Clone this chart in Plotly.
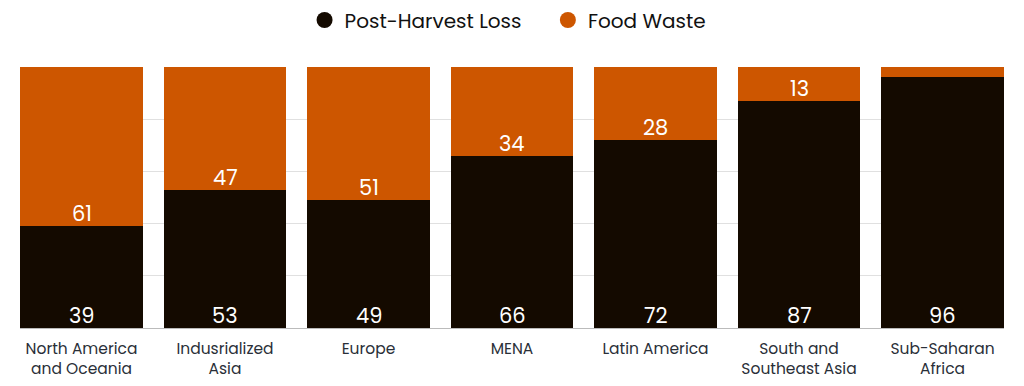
import plotly.graph_objects as go

categories = ["North America<br>and Oceania", "Indusrialized<br>Asia", "Europe", "MENA",
              "Latin America", "South and<br>Southeast Asia", "Sub-Saharan<br>Africa"]
post_harvest = [39, 53, 49, 66, 72, 87, 96]
food_waste = [61, 47, 51, 34, 28, 13, 4]
legend_names = ["Post-Harvest Loss", "Food Waste"]

DARK = "#140a00"
ORANGE = "#cd5600"
FONT = "Poppins, Open Sans, sans-serif"

fig = go.Figure()
fig.add_bar(x=categories, y=post_harvest, name=legend_names[0], marker_color=DARK,
            marker_line_width=0, showlegend=False, hoverinfo="x+y")
fig.add_bar(x=categories, y=food_waste, name=legend_names[1], marker_color=ORANGE,
            marker_line_width=0, showlegend=False, hoverinfo="x+y")
pad = "\u00a0" * 4
for nm, col, suffix in [(legend_names[0], DARK, pad), (legend_names[1], ORANGE, "")]:
    fig.add_scatter(x=[None], y=[None], mode="markers", name=nm + suffix,
                    marker=dict(symbol="circle", size=20, color=col))

# value labels, placed at the base of each segment
lab_font = dict(color="white", size=21, family=FONT)
for c, ph, fw in zip(categories, post_harvest, food_waste):
    fig.add_annotation(x=c, y=0, text=str(ph), showarrow=False, yanchor="bottom",
                       yshift=-4, font=lab_font)
    if fw >= 10:
        fig.add_annotation(x=c, y=ph, text=str(fw), showarrow=False, yanchor="bottom",
                           yshift=-4, font=lab_font)

# page body has an 8px margin, so the figure is 1016x378 and offset by 8px
fig.update_layout(
    barmode="stack", bargap=0.143,
    width=1016, height=378,
    margin=dict(l=12, r=20, t=59, b=58, autoexpand=False),
    plot_bgcolor="white", paper_bgcolor="white",
    font=dict(family=FONT, color="#222"),
    legend=dict(orientation="h", x=0.496, xanchor="center", y=1.18, yanchor="middle",
                font=dict(size=20, color="#111", family=FONT), itemsizing="trace",
                traceorder="normal", itemwidth=30),
    xaxis=dict(range=[-0.4286, 6.4286], showgrid=False, showline=True,
               linecolor="#bbb", linewidth=1, ticks="", ticklabelstandoff=6,
               tickfont=dict(size=15.5, color="#2a2f38", family=FONT)),
    yaxis=dict(range=[0, 100], dtick=20, showgrid=True, gridcolor="#e0e0e0",
               showticklabels=False, zeroline=False, ticks=""),
)

fig.write_html("out.html")
